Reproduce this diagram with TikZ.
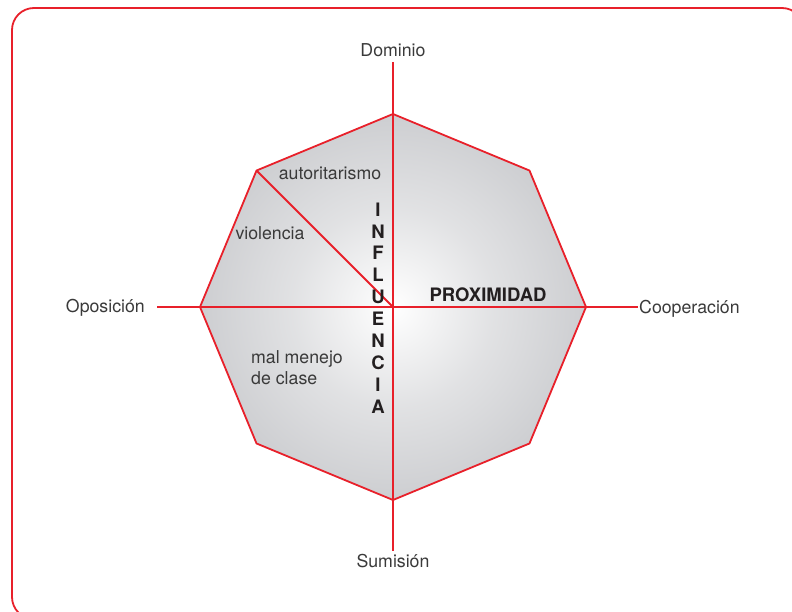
\documentclass[tikz,border=0pt]{standalone}
\usepackage{fontspec}
\setmainfont{TeX Gyre Heros}
\usetikzlibrary{calc}
\definecolor{lred}{HTML}{E8202A}
\definecolor{ltxt}{HTML}{3A3A3A}
\definecolor{lbold}{HTML}{231F20}
\definecolor{lgray}{HTML}{CDCED1}
\pgfdeclareradialshading{octshade}{\pgfpoint{0bp}{0bp}}{color(0bp)=(white); color(13bp)=(white!40!lgray); color(25bp)=(lgray); color(50bp)=(lgray)}
\begin{document}
\begin{tikzpicture}[x=1bp,y=-1bp,
  redline/.style={draw=lred,line width=1.8bp},
  lbl/.style={text=ltxt,font=\fontsize{17.8}{21}\selectfont,inner sep=0pt},
  boldlbl/.style={text=lbold,font=\fontsize{18.6}{22}\selectfont\bfseries,inner sep=0pt}]
\useasboundingbox (0,0) rectangle (792,612);
\clip (0,0) rectangle (792,612);
% frame
\draw[redline,rounded corners=22bp] (12,8) rectangle (804,619);
% octagon
\coordinate (c) at (393,307);
\foreach \i in {0,...,7} {\coordinate (v\i) at ($(c)+(\i*45:193)$);}
\shade[shading=octshade] (v0) -- (v1) -- (v2) -- (v3) -- (v4) -- (v5) -- (v6) -- (v7) -- cycle;
\draw[redline,line join=miter] (v0) -- (v1) -- (v2) -- (v3) -- (v4) -- (v5) -- (v6) -- (v7) -- cycle;
% axes
\coordinate (atop) at (393,62);
\coordinate (abot) at (393,551);
\coordinate (aleft) at (157,307);
\coordinate (aright) at (638,307);
\draw[redline] (atop) -- (abot);
\draw[redline] (aleft) -- (aright);
\draw[redline] (v5) -- (c);
% labels
\node[lbl] (dom) at (393,50) {Dominio};
\node[lbl] (sum) at (393,561) {Sumisión};
\node[lbl,anchor=east] (opo) at (145,308) {Oposición};
\node[lbl,anchor=west] (coo) at (639,309) {Cooperación};
\node[lbl] (aut) at (330,173) {autoritarismo};
\node[lbl] (vio) at (270,233) {violencia};
\node[lbl,align=left,anchor=north west] (mal) at (251,350) {mal menejo\\de clase};
\node[boldlbl] (prox) at (488,295) {PROXIMIDAD};
\node[boldlbl,align=center] (infl) at (378,308) {I\\N\\F\\L\\U\\E\\N\\C\\I\\A};
\end{tikzpicture}
\end{document}
